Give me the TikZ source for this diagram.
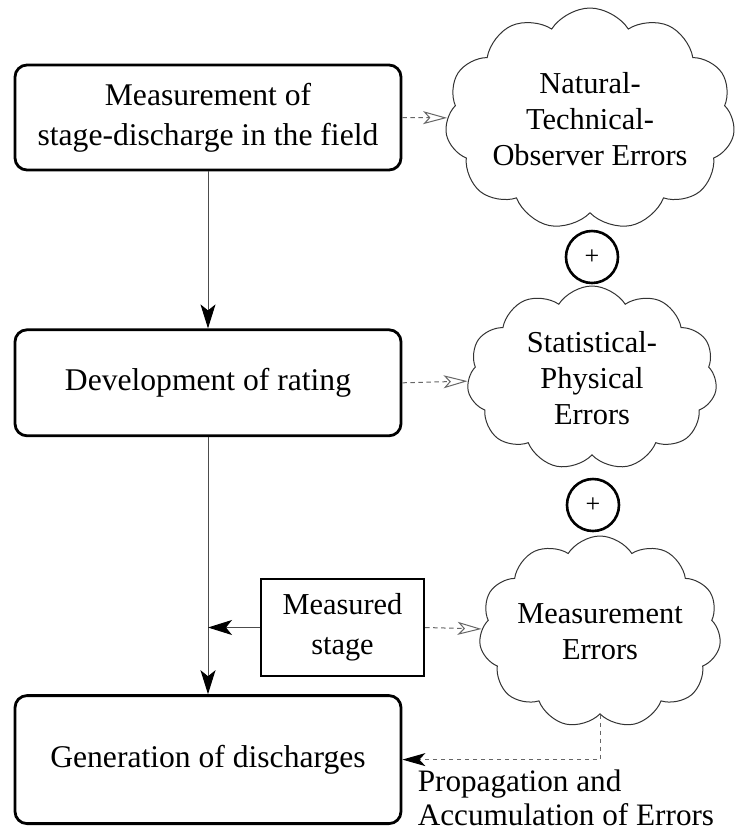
\documentclass[tikz,border=0pt]{standalone}
\usepackage{fontspec}
\setmainfont{Liberation Serif}
\usetikzlibrary{shapes.symbols,arrows.meta,positioning}

\begin{document}
\begin{tikzpicture}[
    x=0.5pt, y=-0.5pt,
    stagebox/.style={rectangle, rounded corners=6pt, draw=black, line width=1.4pt,
                minimum width=193pt, inner sep=0pt, align=center,
                font=\fontsize{15.8}{20}\selectfont},
    gaugebox/.style={rectangle, draw=black, line width=1.2pt, minimum width=81.5pt,
                minimum height=48.5pt, inner sep=0pt, align=center,
                font=\fontsize{15.2}{20}\selectfont},
    errcloud/.style={cloud, cloud puffs=11, cloud puff arc=115, cloud ignores aspect,
                draw=black!80, line width=0.5pt, inner sep=-4pt, align=center,
                font=\fontsize{15.2}{18}\selectfont},
    plus/.style={circle, draw=black, line width=1.3pt, minimum size=26pt, inner sep=0pt,
                font=\fontsize{13}{13}\selectfont},
    flow/.style={draw=black!70, line width=0.5pt,
                -{Stealth[length=12pt, width=7.5pt, inset=3pt, color=black]}},
    errflow/.style={draw=black!60, line width=0.5pt, dash pattern=on 2.2pt off 1.8pt,
                -{Stealth[open, length=12pt, width=6.5pt, inset=3pt]}},
    propflow/.style={draw=black!60, line width=0.5pt, dash pattern=on 2.2pt off 1.8pt,
                -{Stealth[length=11.5pt, width=6.5pt, inset=3pt, color=black]}},
    proplabel/.style={inner sep=0pt, align=left, font=\fontsize{15.6}{17}\selectfont}
]
    \useasboundingbox (0,0) rectangle (737,832);

    % main steps
    \node[stagebox, minimum height=52.5pt] (field) at (208,117.5) {Measurement of\\stage-discharge in the field};
    \node[stagebox, minimum height=53pt, below=78.5pt of field] (rating) {Development of rating};
    \node[stagebox, minimum height=64pt, below=128.5pt of rating] (discharge) {Generation of discharges};
    \node[gaugebox] (gauge) at (342.5,627.5) {Measured\\stage};

    % error sources
    \node[errcloud, minimum width=145pt, minimum height=111pt] (natural) at (590,119) {Natural-\\Technical-\\Observer Errors};
    \node[errcloud, minimum width=125pt, minimum height=92pt] (statistical) at (592,378) {Statistical-\\Physical\\Errors};
    \node[errcloud, minimum width=121pt, minimum height=96pt] (measerr) at (600,632) {Measurement\\Errors};
    \node[plus] (sum1) at (592,257) {+};
    \node[plus] (sum2) at (593,505) {+};

    \draw[flow] (field) -- (rating);
    \draw[flow] (rating) -- (discharge);
    \draw[flow] (gauge.west) -- (gauge.west -| rating.south);

    \draw[errflow] (field.east) -- (natural);
    \draw[errflow] (rating.east) -- (statistical);
    \draw[errflow] (gauge.east) -- (measerr);
    \draw[propflow] (measerr.south) |- (discharge.east);
    \node[proplabel, anchor=north west] (prop) at ([xshift=7.5pt, yshift=-5pt]discharge.east) {Propagation and\\Accumulation of Errors};
\end{tikzpicture}
\end{document}
